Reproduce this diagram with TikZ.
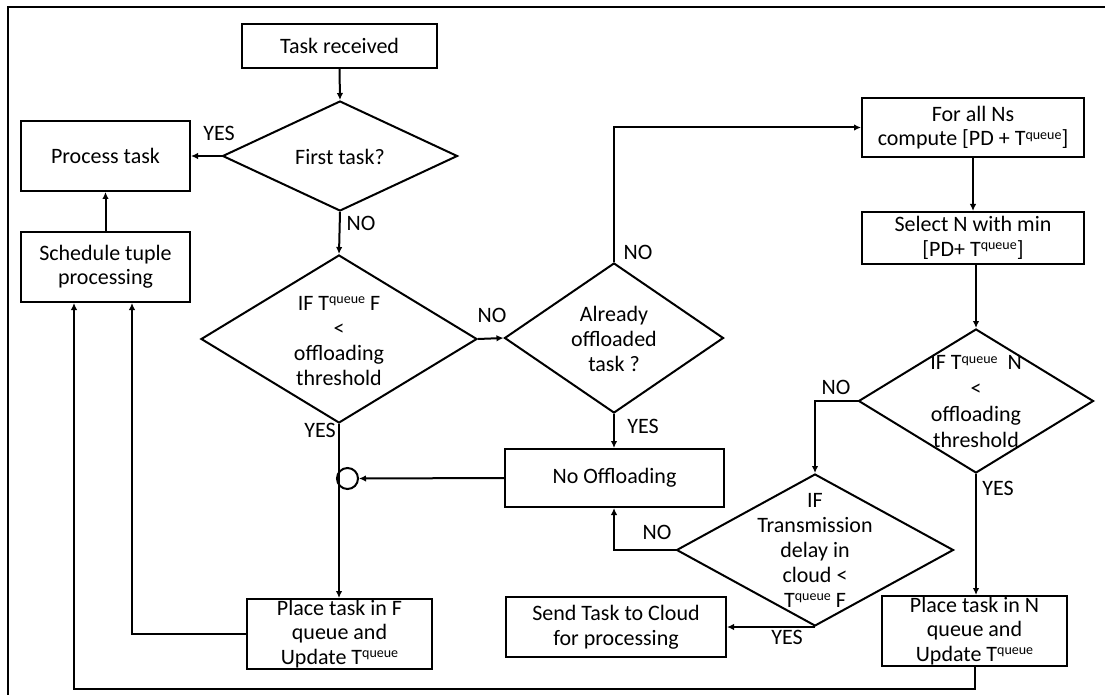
\documentclass[tikz,border=0pt]{standalone}
\usepackage{fontspec}
\setmainfont{Carlito}
\usetikzlibrary{shapes.geometric,arrows.meta,calc}
\newcommand{\Tq}{T\raisebox{0.3em}{\fontsize{14pt}{14pt}\selectfont queue}}
\begin{document}
\begin{tikzpicture}[x=1pt,y=-1pt,
  every node/.style={font=\fontsize{22pt}{24.5pt}\selectfont},
  box/.style={draw,line width=2pt,inner sep=0pt,align=center},
  dia/.style={draw,diamond,line width=2pt,inner sep=0pt},
  txt/.style={align=center,inner sep=0pt,font=\fontsize{22pt}{25pt}\selectfont},
  lab/.style={inner sep=0pt},
  arr/.style={line width=2pt,-{Latex[length=7pt,width=6.5pt]}},
  ln/.style={line width=2pt}]
\useasboundingbox (0,0) rectangle (1105,695);
% frame
\draw[ln] (8,705) -- (8,7) -- (1115,7);

% boxes
\node[box,minimum width=195pt,minimum height=44pt] (tr) at (339.5,46) {Task received};
\node[box,minimum width=169pt,minimum height=70pt] (pt) at (105.5,156) {Process task};
\node[box,minimum width=169pt,minimum height=70pt] (sched) at (105.5,267) {Schedule tuple\\processing};
\node[box,minimum width=222pt,minimum height=59pt] (forall) at (973,127.5) {For all Ns\\compute [PD + \Tq]};
\node[box,minimum width=222pt,minimum height=52pt] (select) at (973,238) {Select N with min\\{}[PD+ \Tq]};
\node[box,minimum width=219pt,minimum height=58pt] (nooff) at (614.5,478) {No Offloading};
\node[box,minimum width=220pt,minimum height=60pt] (send) at (616,627) {Send Task to Cloud\\for processing};
\node[box,minimum width=185pt,minimum height=70pt] (placeF) at (339.5,634) {Place task in F\\queue and\\Update \Tq};
\node[box,minimum width=185pt,minimum height=70pt] (placeN) at (974.5,631) {Place task in N\\queue and\\Update \Tq};

% diamonds
\node[dia,minimum width=235pt,minimum height=110pt] (d1) at (340,156) {};
\node[txt] (d1t) at (340,157) {First task?};
\node[dia,minimum width=276pt,minimum height=168pt] (d2) at (339,339) {};
\node[txt] (d2t) at (339,341) {IF \Tq{} F\\<\\offloading\\threshold};
\node[dia,minimum width=219pt,minimum height=150pt] (d3) at (614,338) {};
\node[txt] (d3t) at (614,339) {Already\\offloaded\\task ?};
\node[dia,minimum width=235pt,minimum height=144pt] (d4) at (976,401) {};
\node[txt,font=\fontsize{22pt}{25.7pt}\selectfont] (d4t) at (976,401.5) {IF \Tq{}~ N\\<\\offloading\\threshold};
\node[dia,minimum width=277pt,minimum height=152pt] (d5) at (815,550) {};
\node[txt] (d5t) at (815,550) {IF\\Transmission\\delay in\\cloud <\\\Tq{} F};

% junction
\node[draw,circle,line width=2pt,minimum size=21pt,inner sep=0pt] (jn) at (347.5,478.5) {};

% connectors
\draw[arr] (tr.south) -- (d1.north);
\draw[arr] (d1.west) -- (pt.east);
\draw[arr] (d1.south) -- (d2.north);
\draw[arr] (sched.north) -- (pt.south);
\draw[arr] (d2.east) -- (d3.west);
\draw[arr] (d3.north) |- (forall.west);
\draw[arr] (forall.south) -- (select.north);
\draw[arr] (d4.north |- select.south) -- (d4.north);
\draw[arr] (d4.west) -| (d5.north);
\draw[arr] (d4.south) -- (d4.south |- placeN.north);
\draw[arr] (d3.south) -- (d3.south |- nooff.north);
\draw[arr] (d5.west) -| (d3.south |- nooff.south);
\draw[arr] (d5.south) -- (d5.south -| send.east);
\draw[arr] (nooff.west) -- (jn.east);
\draw[arr] (d2.south) -- (d2.south |- placeF.north);
\draw[arr] (placeF.west) -| ([xshift=26.5pt]sched.south);
\coordinate (bot) at (0,689);
\draw[arr] (placeN.south) -- (placeN.south |- bot) -| ([xshift=-31.5pt]sched.south);

% labels
\node[lab] (l1) at (219,133) {YES};
\node[lab] (l2) at (361,223) {NO};
\node[lab] (l3) at (492,315) {NO};
\node[lab] (l4) at (320,430) {YES};
\node[lab] (l5) at (638,252) {NO};
\node[lab] (l6) at (643,426) {YES};
\node[lab] (l7) at (836,387) {NO};
\node[lab] (l8) at (998,488) {YES};
\node[lab] (l9) at (657,532) {NO};
\node[lab] (l10) at (787,637) {YES};
\end{tikzpicture}
\end{document}
